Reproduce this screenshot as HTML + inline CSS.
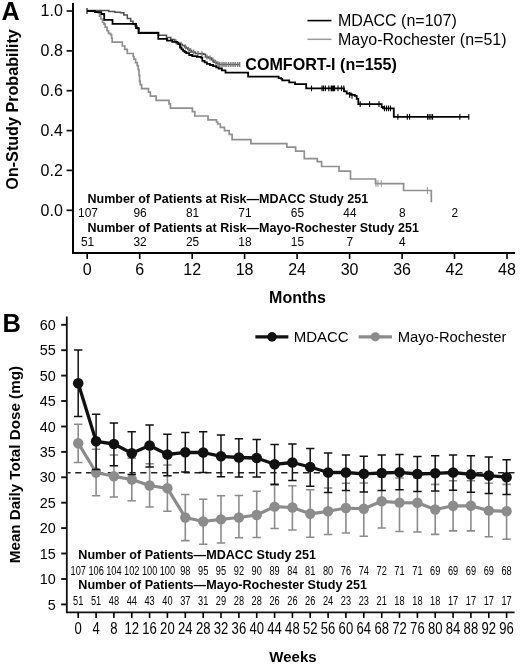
<!DOCTYPE html><html><head><meta charset="utf-8"><style>html,body{margin:0;padding:0;background:#fff;}svg{display:block;will-change:transform;}text{font-family:"Liberation Sans",sans-serif;}</style></head><body>
<svg width="520" height="670" viewBox="0 0 520 670">
<rect width="520" height="670" fill="#fff"/>
<text x="1.6" y="20" font-size="25.2" font-weight="bold" fill="#000">A</text>
<text transform="translate(17.9,109.4) rotate(-90)" text-anchor="middle" font-size="16.15" font-weight="bold" fill="#000">On-Study Probability</text>
<path d="M73 3V253H515" fill="none" stroke="#000" stroke-width="2"/>
<path d="M66.6 210.3H73" stroke="#111" stroke-width="1.7"/>
<text x="62.8" y="215.5" text-anchor="end" font-size="16" fill="#000">0.0</text>
<path d="M66.6 170.4H73" stroke="#111" stroke-width="1.7"/>
<text x="62.8" y="175.6" text-anchor="end" font-size="16" fill="#000">0.2</text>
<path d="M66.6 130.6H73" stroke="#111" stroke-width="1.7"/>
<text x="62.8" y="135.8" text-anchor="end" font-size="16" fill="#000">0.4</text>
<path d="M66.6 90.7H73" stroke="#111" stroke-width="1.7"/>
<text x="62.8" y="95.9" text-anchor="end" font-size="16" fill="#000">0.6</text>
<path d="M66.6 50.9H73" stroke="#111" stroke-width="1.7"/>
<text x="62.8" y="56.1" text-anchor="end" font-size="16" fill="#000">0.8</text>
<path d="M66.6 11.0H73" stroke="#111" stroke-width="1.7"/>
<text x="62.8" y="16.2" text-anchor="end" font-size="16" fill="#000">1.0</text>
<path d="M87.2 253V259" stroke="#000" stroke-width="1.6"/>
<text x="87.2" y="275.1" text-anchor="middle" font-size="16" fill="#000">0</text>
<path d="M139.7 253V259" stroke="#000" stroke-width="1.6"/>
<text x="139.7" y="275.1" text-anchor="middle" font-size="16" fill="#000">6</text>
<path d="M192.2 253V259" stroke="#000" stroke-width="1.6"/>
<text x="192.2" y="275.1" text-anchor="middle" font-size="16" fill="#000">12</text>
<path d="M244.6 253V259" stroke="#000" stroke-width="1.6"/>
<text x="244.6" y="275.1" text-anchor="middle" font-size="16" fill="#000">18</text>
<path d="M297.1 253V259" stroke="#000" stroke-width="1.6"/>
<text x="297.1" y="275.1" text-anchor="middle" font-size="16" fill="#000">24</text>
<path d="M349.6 253V259" stroke="#000" stroke-width="1.6"/>
<text x="349.6" y="275.1" text-anchor="middle" font-size="16" fill="#000">30</text>
<path d="M402.1 253V259" stroke="#000" stroke-width="1.6"/>
<text x="402.1" y="275.1" text-anchor="middle" font-size="16" fill="#000">36</text>
<path d="M454.5 253V259" stroke="#000" stroke-width="1.6"/>
<text x="454.5" y="275.1" text-anchor="middle" font-size="16" fill="#000">42</text>
<path d="M507.0 253V259" stroke="#000" stroke-width="1.6"/>
<text x="507.0" y="275.1" text-anchor="middle" font-size="16" fill="#000">48</text>
<text x="297.5" y="302.6" text-anchor="middle" font-size="16" font-weight="bold" fill="#000">Months</text>
<path d="M307.5 20.6H331.5" stroke="#000" stroke-width="1.6"/>
<path d="M307.5 39.3H331.5" stroke="#9a9a9a" stroke-width="1.5"/>
<text x="338" y="26.3" font-size="16" fill="#000">MDACC (n=107)</text>
<text x="338" y="45.0" font-size="16" fill="#000">Mayo-Rochester (n=51)</text>
<text x="245.3" y="70.4" font-size="16.1" font-weight="bold" fill="#000">COMFORT-I (n=155)</text>
<path d="M87.0 11.0H98.3V12.7H99.5V16.1H100.8V19.0H102.5V22.5H104.0V24.2H105.2V27.1H107.0V30.6H108.5V33.4H110.5V34.6H111.6V38.1H112.2V42.2H122.3V46.0H124.8V49.4H127.3V53.5H133.2V56.5H134.0V59.2H135.6V62.7H137.2V65.6H138.2V69.6H139.0V75.4H139.6V81.1H140.2V84.6H141.6V88.6H148.5V92.1H150.4V96.1H156.1V100.4H169.0V103.8H170.4V108.2H192.4V111.6H194.8V116.0H208.0V119.8H216.5V122.0H217.7V124.0H220.3V127.3H224.5V130.7H229.2V134.3H232.1V139.6H250.9V143.6H286.9V147.1H295.6V151.2H304.3V158.7H317.3V161.6H321.6V166.5H339.0V171.2H350.5V179.0H375.5V183.6H403.6V190.5H431.3V202.3H431.3" fill="none" stroke="#909090" stroke-width="1.7"/>
<path d="M381.3 180.1V187.1M427.4 187.0V194.0M376.0 180.1V187.1M378.0 180.1V187.1" stroke="#999" stroke-width="1"/>
<path d="M87.0 10.6H108.8V11.5H115.0V12.2H120.4V12.7H123.8V15.0H127.3V18.5H130.7V21.3H133.0V24.2H135.2V26.0H137.0V28.5H139.2V32.6H158.5V35.3H166.5V37.6H170.8V39.5H174.8V42.1H177.5V44.2H182.3V45.5H184.6V46.9H186.2V48.0H187.7V49.2H189.6V50.5H191.5V51.9H195.4V53.5H200.0V53.8H203.8V54.2H205.4V56.9H208.5V58.1H211.5V60.0H213.8V62.3H216.9V63.8H219.2V64.6H239.7" fill="none" stroke="#505050" stroke-width="1.5"/>
<path d="M176.0 39.6V44.6M181.0 41.7V46.7M185.5 44.4V49.4M188.5 46.7V51.7M190.5 48.0V53.0M193.5 49.4V54.4M198.0 51.0V56.0M202.0 51.3V56.3M207.0 54.4V59.4M210.0 55.6V60.6M212.7 57.5V62.5M215.5 59.8V64.8M218.0 61.3V66.3M219.8 62.1V67.1M222.0 62.1V67.1M224.0 62.1V67.1M226.0 62.1V67.1M228.5 62.1V67.1M230.8 62.1V67.1M233.1 62.1V67.1M235.3 62.1V67.1M237.7 62.1V67.1M239.7 62.1V67.1" stroke="#7a7a7a" stroke-width="1.4"/>
<path d="M87.0 11.0H95.0V12.1H101.3V14.0H104.2V19.8H112.5V23.8H136.0V28.0H138.5V33.0H158.3V38.8H167.0V40.7H172.3V41.8H177.0V42.6H178.5V44.2H180.0V47.7H181.5V49.3H183.1V50.8H184.6V52.0H186.2V53.1H189.2V55.0H192.3V56.2H196.9V56.9H200.8V57.7H202.3V60.8H204.6V62.3H206.9V63.8H210.0V65.0H213.1V66.2H216.2V67.3H218.5V68.5H221.9V70.4H225.5V72.6H248.1V76.6H278.6V78.1H281.3V78.8H282.3V80.4H289.2V82.3H295.0V84.2H306.2V88.4H344.0V91.3H346.7V93.5H350.8V94.8H354.8V95.8H356.7V98.8H358.3V104.2H381.7V107.0H383.0V108.3H393.8V116.9H469.0" fill="none" stroke="#000" stroke-width="1.8"/>
<path d="M87.0 8.1V13.9M322.0 85.5V91.3M323.5 85.5V91.3M325.4 85.5V91.3M328.8 85.5V91.3M331.2 85.5V91.3M332.3 85.5V91.3M333.5 85.5V91.3M334.6 85.5V91.3M338.0 85.5V91.3M341.5 85.5V91.3M343.8 85.5V91.3M311.5 85.5V91.3M349.6 91.9V97.7M352.0 92.9V98.7M360.2 101.3V107.1M369.6 101.3V107.1M379.0 101.3V107.1M384.5 105.4V111.2M386.5 105.4V111.2M388.5 105.4V111.2M390.5 105.4V111.2M397.9 114.0V119.8M407.3 114.0V119.8M409.6 114.0V119.8M427.6 114.0V119.8M429.2 114.0V119.8M431.0 114.0V119.8M432.6 114.0V119.8M459.9 114.0V119.8M468.8 114.0V119.8" stroke="#000" stroke-width="1.1"/>
<text x="87.5" y="202.7" font-size="12.5" font-weight="bold" fill="#000">Number of Patients at Risk—MDACC Study 251</text>
<text x="88.0" y="216.6" text-anchor="middle" font-size="11.9" fill="#000">107</text>
<text x="140.0" y="216.6" text-anchor="middle" font-size="11.9" fill="#000">96</text>
<text x="192.5" y="216.6" text-anchor="middle" font-size="11.9" fill="#000">81</text>
<text x="244.9" y="216.6" text-anchor="middle" font-size="11.9" fill="#000">71</text>
<text x="297.4" y="216.6" text-anchor="middle" font-size="11.9" fill="#000">65</text>
<text x="349.9" y="216.6" text-anchor="middle" font-size="11.9" fill="#000">44</text>
<text x="402.4" y="216.6" text-anchor="middle" font-size="11.9" fill="#000">8</text>
<text x="454.8" y="216.6" text-anchor="middle" font-size="11.9" fill="#000">2</text>
<text x="87.5" y="231.6" font-size="12.5" font-weight="bold" fill="#000">Number of Patients at Risk—Mayo-Rochester Study 251</text>
<text x="87.5" y="245.8" text-anchor="middle" font-size="11.9" fill="#000">51</text>
<text x="140.0" y="245.8" text-anchor="middle" font-size="11.9" fill="#000">32</text>
<text x="192.5" y="245.8" text-anchor="middle" font-size="11.9" fill="#000">25</text>
<text x="244.9" y="245.8" text-anchor="middle" font-size="11.9" fill="#000">18</text>
<text x="297.4" y="245.8" text-anchor="middle" font-size="11.9" fill="#000">15</text>
<text x="349.9" y="245.8" text-anchor="middle" font-size="11.9" fill="#000">7</text>
<text x="402.4" y="245.8" text-anchor="middle" font-size="11.9" fill="#000">4</text>
<text x="2.5" y="332.2" font-size="25.5" font-weight="bold" fill="#000">B</text>
<text transform="translate(19.8,464.6) rotate(-90)" text-anchor="middle" font-size="15.2" font-weight="bold" fill="#000">Mean Daily Total Dose (mg)</text>
<path d="M66.8 316.5V612.4H514.6" fill="none" stroke="#111" stroke-width="1.8"/>
<path d="M61.2 604.4H67" stroke="#111" stroke-width="1.9"/>
<text x="55.9" y="609.6" text-anchor="end" font-size="15.5" fill="#000" transform="translate(55.9 0) scale(0.93 1) translate(-55.9 0)">5</text>
<path d="M61.2 579.0H67" stroke="#111" stroke-width="1.9"/>
<text x="55.9" y="584.2" text-anchor="end" font-size="15.5" fill="#000" transform="translate(55.9 0) scale(0.93 1) translate(-55.9 0)">10</text>
<path d="M61.2 553.5H67" stroke="#111" stroke-width="1.9"/>
<text x="55.9" y="558.7" text-anchor="end" font-size="15.5" fill="#000" transform="translate(55.9 0) scale(0.93 1) translate(-55.9 0)">15</text>
<path d="M61.2 528.1H67" stroke="#111" stroke-width="1.9"/>
<text x="55.9" y="533.3" text-anchor="end" font-size="15.5" fill="#000" transform="translate(55.9 0) scale(0.93 1) translate(-55.9 0)">20</text>
<path d="M61.2 502.7H67" stroke="#111" stroke-width="1.9"/>
<text x="55.9" y="507.9" text-anchor="end" font-size="15.5" fill="#000" transform="translate(55.9 0) scale(0.93 1) translate(-55.9 0)">25</text>
<path d="M61.2 477.3H67" stroke="#111" stroke-width="1.9"/>
<text x="55.9" y="482.5" text-anchor="end" font-size="15.5" fill="#000" transform="translate(55.9 0) scale(0.93 1) translate(-55.9 0)">30</text>
<path d="M61.2 451.9H67" stroke="#111" stroke-width="1.9"/>
<text x="55.9" y="457.1" text-anchor="end" font-size="15.5" fill="#000" transform="translate(55.9 0) scale(0.93 1) translate(-55.9 0)">35</text>
<path d="M61.2 426.5H67" stroke="#111" stroke-width="1.9"/>
<text x="55.9" y="431.7" text-anchor="end" font-size="15.5" fill="#000" transform="translate(55.9 0) scale(0.93 1) translate(-55.9 0)">40</text>
<path d="M61.2 401.0H67" stroke="#111" stroke-width="1.9"/>
<text x="55.9" y="406.2" text-anchor="end" font-size="15.5" fill="#000" transform="translate(55.9 0) scale(0.93 1) translate(-55.9 0)">45</text>
<path d="M61.2 375.6H67" stroke="#111" stroke-width="1.9"/>
<text x="55.9" y="380.8" text-anchor="end" font-size="15.5" fill="#000" transform="translate(55.9 0) scale(0.93 1) translate(-55.9 0)">50</text>
<path d="M61.2 350.2H67" stroke="#111" stroke-width="1.9"/>
<text x="55.9" y="355.4" text-anchor="end" font-size="15.5" fill="#000" transform="translate(55.9 0) scale(0.93 1) translate(-55.9 0)">55</text>
<path d="M61.2 324.8H67" stroke="#111" stroke-width="1.9"/>
<text x="55.9" y="330.0" text-anchor="end" font-size="15.5" fill="#000" transform="translate(55.9 0) scale(0.93 1) translate(-55.9 0)">60</text>
<path d="M78.2 612.5V618" stroke="#000" stroke-width="1.6"/>
<text x="78.2" y="633.8" text-anchor="middle" font-size="15.6" fill="#000" transform="translate(78.2 0) scale(0.84 1) translate(-78.2 0)">0</text>
<path d="M96.1 612.5V618" stroke="#000" stroke-width="1.6"/>
<text x="96.1" y="633.8" text-anchor="middle" font-size="15.6" fill="#000" transform="translate(96.1 0) scale(0.84 1) translate(-96.1 0)">4</text>
<path d="M113.9 612.5V618" stroke="#000" stroke-width="1.6"/>
<text x="113.9" y="633.8" text-anchor="middle" font-size="15.6" fill="#000" transform="translate(113.9 0) scale(0.84 1) translate(-113.9 0)">8</text>
<path d="M131.8 612.5V618" stroke="#000" stroke-width="1.6"/>
<text x="131.8" y="633.8" text-anchor="middle" font-size="15.6" fill="#000" transform="translate(131.8 0) scale(0.84 1) translate(-131.8 0)">12</text>
<path d="M149.6 612.5V618" stroke="#000" stroke-width="1.6"/>
<text x="149.6" y="633.8" text-anchor="middle" font-size="15.6" fill="#000" transform="translate(149.6 0) scale(0.84 1) translate(-149.6 0)">16</text>
<path d="M167.4 612.5V618" stroke="#000" stroke-width="1.6"/>
<text x="167.4" y="633.8" text-anchor="middle" font-size="15.6" fill="#000" transform="translate(167.4 0) scale(0.84 1) translate(-167.4 0)">20</text>
<path d="M185.3 612.5V618" stroke="#000" stroke-width="1.6"/>
<text x="185.3" y="633.8" text-anchor="middle" font-size="15.6" fill="#000" transform="translate(185.3 0) scale(0.84 1) translate(-185.3 0)">24</text>
<path d="M203.2 612.5V618" stroke="#000" stroke-width="1.6"/>
<text x="203.2" y="633.8" text-anchor="middle" font-size="15.6" fill="#000" transform="translate(203.2 0) scale(0.84 1) translate(-203.2 0)">28</text>
<path d="M221.0 612.5V618" stroke="#000" stroke-width="1.6"/>
<text x="221.0" y="633.8" text-anchor="middle" font-size="15.6" fill="#000" transform="translate(221.0 0) scale(0.84 1) translate(-221.0 0)">32</text>
<path d="M238.9 612.5V618" stroke="#000" stroke-width="1.6"/>
<text x="238.9" y="633.8" text-anchor="middle" font-size="15.6" fill="#000" transform="translate(238.9 0) scale(0.84 1) translate(-238.9 0)">36</text>
<path d="M256.7 612.5V618" stroke="#000" stroke-width="1.6"/>
<text x="256.7" y="633.8" text-anchor="middle" font-size="15.6" fill="#000" transform="translate(256.7 0) scale(0.84 1) translate(-256.7 0)">40</text>
<path d="M274.6 612.5V618" stroke="#000" stroke-width="1.6"/>
<text x="274.6" y="633.8" text-anchor="middle" font-size="15.6" fill="#000" transform="translate(274.6 0) scale(0.84 1) translate(-274.6 0)">44</text>
<path d="M292.4 612.5V618" stroke="#000" stroke-width="1.6"/>
<text x="292.4" y="633.8" text-anchor="middle" font-size="15.6" fill="#000" transform="translate(292.4 0) scale(0.84 1) translate(-292.4 0)">48</text>
<path d="M310.2 612.5V618" stroke="#000" stroke-width="1.6"/>
<text x="310.2" y="633.8" text-anchor="middle" font-size="15.6" fill="#000" transform="translate(310.2 0) scale(0.84 1) translate(-310.2 0)">52</text>
<path d="M328.1 612.5V618" stroke="#000" stroke-width="1.6"/>
<text x="328.1" y="633.8" text-anchor="middle" font-size="15.6" fill="#000" transform="translate(328.1 0) scale(0.84 1) translate(-328.1 0)">56</text>
<path d="M345.9 612.5V618" stroke="#000" stroke-width="1.6"/>
<text x="345.9" y="633.8" text-anchor="middle" font-size="15.6" fill="#000" transform="translate(345.9 0) scale(0.84 1) translate(-345.9 0)">60</text>
<path d="M363.8 612.5V618" stroke="#000" stroke-width="1.6"/>
<text x="363.8" y="633.8" text-anchor="middle" font-size="15.6" fill="#000" transform="translate(363.8 0) scale(0.84 1) translate(-363.8 0)">64</text>
<path d="M381.7 612.5V618" stroke="#000" stroke-width="1.6"/>
<text x="381.7" y="633.8" text-anchor="middle" font-size="15.6" fill="#000" transform="translate(381.7 0) scale(0.84 1) translate(-381.7 0)">68</text>
<path d="M399.5 612.5V618" stroke="#000" stroke-width="1.6"/>
<text x="399.5" y="633.8" text-anchor="middle" font-size="15.6" fill="#000" transform="translate(399.5 0) scale(0.84 1) translate(-399.5 0)">72</text>
<path d="M417.4 612.5V618" stroke="#000" stroke-width="1.6"/>
<text x="417.4" y="633.8" text-anchor="middle" font-size="15.6" fill="#000" transform="translate(417.4 0) scale(0.84 1) translate(-417.4 0)">76</text>
<path d="M435.2 612.5V618" stroke="#000" stroke-width="1.6"/>
<text x="435.2" y="633.8" text-anchor="middle" font-size="15.6" fill="#000" transform="translate(435.2 0) scale(0.84 1) translate(-435.2 0)">80</text>
<path d="M453.1 612.5V618" stroke="#000" stroke-width="1.6"/>
<text x="453.1" y="633.8" text-anchor="middle" font-size="15.6" fill="#000" transform="translate(453.1 0) scale(0.84 1) translate(-453.1 0)">84</text>
<path d="M470.9 612.5V618" stroke="#000" stroke-width="1.6"/>
<text x="470.9" y="633.8" text-anchor="middle" font-size="15.6" fill="#000" transform="translate(470.9 0) scale(0.84 1) translate(-470.9 0)">88</text>
<path d="M488.8 612.5V618" stroke="#000" stroke-width="1.6"/>
<text x="488.8" y="633.8" text-anchor="middle" font-size="15.6" fill="#000" transform="translate(488.8 0) scale(0.84 1) translate(-488.8 0)">92</text>
<path d="M506.6 612.5V618" stroke="#000" stroke-width="1.6"/>
<text x="506.6" y="633.8" text-anchor="middle" font-size="15.6" fill="#000" transform="translate(506.6 0) scale(0.84 1) translate(-506.6 0)">96</text>
<text x="293" y="661.9" text-anchor="middle" font-size="15" font-weight="bold" fill="#000">Weeks</text>
<path d="M67.6 472.8H514.5" stroke="#222" stroke-width="1.4" stroke-dasharray="6.2 4.64" stroke-dashoffset="3.2"/>
<path d="M78.2 424.3V462.5M74.0 424.3H82.4M74.0 462.5H82.4M96.1 449.3V495.8M91.9 449.3H100.3M91.9 495.8H100.3M113.9 455.0V497.0M109.7 455.0H118.1M109.7 497.0H118.1M131.8 458.3V500.8M127.5 458.3H135.9M127.5 500.8H135.9M149.6 463.8V507.0M145.4 463.8H153.8M145.4 507.0H153.8M167.4 465.0V511.3M163.2 465.0H171.6M163.2 511.3H171.6M185.3 494.5V540.6M181.1 494.5H189.5M181.1 540.6H189.5M203.2 499.3V544.3M199.0 499.3H207.4M199.0 544.3H207.4M221.0 495.8V543.0M216.8 495.8H225.2M216.8 543.0H225.2M238.9 495.5V537.8M234.7 495.5H243.1M234.7 537.8H243.1M256.7 491.3V537.5M252.5 491.3H260.9M252.5 537.5H260.9M274.6 485.3V528.5M270.4 485.3H278.8M270.4 528.5H278.8M292.4 485.8V530.0M288.2 485.8H296.6M288.2 530.0H296.6M310.2 489.8V537.2M306.1 489.8H314.4M306.1 537.2H314.4M328.1 488.0V534.5M323.9 488.0H332.3M323.9 534.5H332.3M345.9 483.3V533.0M341.8 483.3H350.1M341.8 533.0H350.1M363.8 483.0V536.3M359.6 483.0H368.0M359.6 536.3H368.0M381.7 477.0V528.0M377.5 477.0H385.9M377.5 528.0H385.9M399.5 478.0V531.5M395.3 478.0H403.7M395.3 531.5H403.7M417.4 478.0V532.0M413.2 478.0H421.6M413.2 532.0H421.6M435.2 484.4V534.4M431.0 484.4H439.4M431.0 534.4H439.4M453.1 480.8V530.9M448.9 480.8H457.2M448.9 530.9H457.2M470.9 480.8V530.9M466.7 480.8H475.1M466.7 530.9H475.1M488.8 483.2V536.8M484.6 483.2H492.9M484.6 536.8H492.9M506.6 484.4V539.3M502.4 484.4H510.8M502.4 539.3H510.8" fill="none" stroke="#8c8c8c" stroke-width="1.6"/>
<polyline points="78.2,443.2 96.1,472.5 113.9,476.3 131.8,479.5 149.6,485.5 167.4,488.3 185.3,517.5 203.2,521.5 221.0,519.4 238.9,517.5 256.7,515.0 274.6,506.6 292.4,507.5 310.2,513.8 328.1,511.3 345.9,508.0 363.8,508.8 381.7,501.3 399.5,502.6 417.4,502.8 435.2,509.5 453.1,505.8 470.9,505.8 488.8,510.6 506.6,511.3" fill="none" stroke="#8c8c8c" stroke-width="3.2" stroke-linejoin="round"/>
<circle cx="78.2" cy="443.2" r="5.2" fill="#8c8c8c"/>
<circle cx="96.1" cy="472.5" r="5.2" fill="#8c8c8c"/>
<circle cx="113.9" cy="476.3" r="5.2" fill="#8c8c8c"/>
<circle cx="131.8" cy="479.5" r="5.2" fill="#8c8c8c"/>
<circle cx="149.6" cy="485.5" r="5.2" fill="#8c8c8c"/>
<circle cx="167.4" cy="488.3" r="5.2" fill="#8c8c8c"/>
<circle cx="185.3" cy="517.5" r="5.2" fill="#8c8c8c"/>
<circle cx="203.2" cy="521.5" r="5.2" fill="#8c8c8c"/>
<circle cx="221.0" cy="519.4" r="5.2" fill="#8c8c8c"/>
<circle cx="238.9" cy="517.5" r="5.2" fill="#8c8c8c"/>
<circle cx="256.7" cy="515.0" r="5.2" fill="#8c8c8c"/>
<circle cx="274.6" cy="506.6" r="5.2" fill="#8c8c8c"/>
<circle cx="292.4" cy="507.5" r="5.2" fill="#8c8c8c"/>
<circle cx="310.2" cy="513.8" r="5.2" fill="#8c8c8c"/>
<circle cx="328.1" cy="511.3" r="5.2" fill="#8c8c8c"/>
<circle cx="345.9" cy="508.0" r="5.2" fill="#8c8c8c"/>
<circle cx="363.8" cy="508.8" r="5.2" fill="#8c8c8c"/>
<circle cx="381.7" cy="501.3" r="5.2" fill="#8c8c8c"/>
<circle cx="399.5" cy="502.6" r="5.2" fill="#8c8c8c"/>
<circle cx="417.4" cy="502.8" r="5.2" fill="#8c8c8c"/>
<circle cx="435.2" cy="509.5" r="5.2" fill="#8c8c8c"/>
<circle cx="453.1" cy="505.8" r="5.2" fill="#8c8c8c"/>
<circle cx="470.9" cy="505.8" r="5.2" fill="#8c8c8c"/>
<circle cx="488.8" cy="510.6" r="5.2" fill="#8c8c8c"/>
<circle cx="506.6" cy="511.3" r="5.2" fill="#8c8c8c"/>
<path d="M78.2 350.0V416.5M74.0 350.0H82.4M74.0 416.5H82.4M96.1 414.3V469.5M91.9 414.3H100.3M91.9 469.5H100.3M113.9 423.0V465.8M109.7 423.0H118.1M109.7 465.8H118.1M131.8 431.8V474.5M127.5 431.8H135.9M127.5 474.5H135.9M149.6 425.0V467.0M145.4 425.0H153.8M145.4 467.0H153.8M167.4 434.3V475.8M163.2 434.3H171.6M163.2 475.8H171.6M185.3 432.5V472.0M181.1 432.5H189.5M181.1 472.0H189.5M203.2 431.8V472.5M199.0 431.8H207.4M199.0 472.5H207.4M221.0 435.0V476.8M216.8 435.0H225.2M216.8 476.8H225.2M238.9 438.8V477.0M234.7 438.8H243.1M234.7 477.0H243.1M256.7 439.5V477.0M252.5 439.5H260.9M252.5 477.0H260.9M274.6 444.5V484.3M270.4 444.5H278.8M270.4 484.3H278.8M292.4 444.0V480.5M288.2 444.0H296.6M288.2 480.5H296.6M310.2 448.5V486.3M306.1 448.5H314.4M306.1 486.3H314.4M328.1 453.0V492.5M323.9 453.0H332.3M323.9 492.5H332.3M345.9 455.0V490.5M341.8 455.0H350.1M341.8 490.5H350.1M363.8 456.3V492.0M359.6 456.3H368.0M359.6 492.0H368.0M381.7 455.0V490.5M377.5 455.0H385.9M377.5 490.5H385.9M399.5 454.5V489.8M395.3 454.5H403.7M395.3 489.8H403.7M417.4 456.6V491.6M413.2 456.6H421.6M413.2 491.6H421.6M435.2 455.8V491.0M431.0 455.8H439.4M431.0 491.0H439.4M453.1 455.0V490.3M448.9 455.0H457.2M448.9 490.3H457.2M470.9 455.8V492.2M466.7 455.8H475.1M466.7 492.2H475.1M488.8 457.0V493.4M484.6 457.0H492.9M484.6 493.4H492.9M506.6 459.8V494.6M502.4 459.8H510.8M502.4 494.6H510.8" fill="none" stroke="#111" stroke-width="1.5"/>
<polyline points="78.2,383.3 96.1,441.3 113.9,444.0 131.8,453.3 149.6,445.5 167.4,454.5 185.3,452.3 203.2,452.5 221.0,456.3 238.9,457.5 256.7,458.0 274.6,464.3 292.4,462.5 310.2,467.0 328.1,472.5 345.9,472.5 363.8,473.8 381.7,473.0 399.5,472.3 417.4,474.0 435.2,473.3 453.1,472.5 470.9,474.4 488.8,475.6 506.6,477.2" fill="none" stroke="#111" stroke-width="3.3" stroke-linejoin="round"/>
<circle cx="78.2" cy="383.3" r="5.3" fill="#111"/>
<circle cx="96.1" cy="441.3" r="5.3" fill="#111"/>
<circle cx="113.9" cy="444.0" r="5.3" fill="#111"/>
<circle cx="131.8" cy="453.3" r="5.3" fill="#111"/>
<circle cx="149.6" cy="445.5" r="5.3" fill="#111"/>
<circle cx="167.4" cy="454.5" r="5.3" fill="#111"/>
<circle cx="185.3" cy="452.3" r="5.3" fill="#111"/>
<circle cx="203.2" cy="452.5" r="5.3" fill="#111"/>
<circle cx="221.0" cy="456.3" r="5.3" fill="#111"/>
<circle cx="238.9" cy="457.5" r="5.3" fill="#111"/>
<circle cx="256.7" cy="458.0" r="5.3" fill="#111"/>
<circle cx="274.6" cy="464.3" r="5.3" fill="#111"/>
<circle cx="292.4" cy="462.5" r="5.3" fill="#111"/>
<circle cx="310.2" cy="467.0" r="5.3" fill="#111"/>
<circle cx="328.1" cy="472.5" r="5.3" fill="#111"/>
<circle cx="345.9" cy="472.5" r="5.3" fill="#111"/>
<circle cx="363.8" cy="473.8" r="5.3" fill="#111"/>
<circle cx="381.7" cy="473.0" r="5.3" fill="#111"/>
<circle cx="399.5" cy="472.3" r="5.3" fill="#111"/>
<circle cx="417.4" cy="474.0" r="5.3" fill="#111"/>
<circle cx="435.2" cy="473.3" r="5.3" fill="#111"/>
<circle cx="453.1" cy="472.5" r="5.3" fill="#111"/>
<circle cx="470.9" cy="474.4" r="5.3" fill="#111"/>
<circle cx="488.8" cy="475.6" r="5.3" fill="#111"/>
<circle cx="506.6" cy="477.2" r="5.3" fill="#111"/>
<path d="M255.4 336.8H288.4" stroke="#111" stroke-width="3.2"/><circle cx="272" cy="336.9" r="4.8" fill="#111"/>
<text x="293.7" y="342.4" font-size="15" fill="#000">MDACC</text>
<path d="M358.7 336.8H392" stroke="#8c8c8c" stroke-width="3.2"/><circle cx="375.3" cy="336.8" r="4.6" fill="#8c8c8c"/>
<text x="397.8" y="342.4" font-size="14.8" fill="#000">Mayo-Rochester</text>
<text x="78.3" y="558.9" font-size="12.58" font-weight="bold" fill="#000">Number of Patients—MDACC Study 251</text>
<text x="78.2" y="575.0" text-anchor="middle" font-size="12.3" fill="#000" transform="translate(78.2 0) scale(0.75 1) translate(-78.2 0)">107</text>
<text x="96.1" y="575.0" text-anchor="middle" font-size="12.3" fill="#000" transform="translate(96.1 0) scale(0.75 1) translate(-96.1 0)">106</text>
<text x="113.9" y="575.0" text-anchor="middle" font-size="12.3" fill="#000" transform="translate(113.9 0) scale(0.75 1) translate(-113.9 0)">104</text>
<text x="131.8" y="575.0" text-anchor="middle" font-size="12.3" fill="#000" transform="translate(131.8 0) scale(0.75 1) translate(-131.8 0)">102</text>
<text x="149.6" y="575.0" text-anchor="middle" font-size="12.3" fill="#000" transform="translate(149.6 0) scale(0.75 1) translate(-149.6 0)">100</text>
<text x="167.4" y="575.0" text-anchor="middle" font-size="12.3" fill="#000" transform="translate(167.4 0) scale(0.75 1) translate(-167.4 0)">100</text>
<text x="185.3" y="575.0" text-anchor="middle" font-size="12.3" fill="#000" transform="translate(185.3 0) scale(0.75 1) translate(-185.3 0)">98</text>
<text x="203.2" y="575.0" text-anchor="middle" font-size="12.3" fill="#000" transform="translate(203.2 0) scale(0.75 1) translate(-203.2 0)">95</text>
<text x="221.0" y="575.0" text-anchor="middle" font-size="12.3" fill="#000" transform="translate(221.0 0) scale(0.75 1) translate(-221.0 0)">95</text>
<text x="238.9" y="575.0" text-anchor="middle" font-size="12.3" fill="#000" transform="translate(238.9 0) scale(0.75 1) translate(-238.9 0)">92</text>
<text x="256.7" y="575.0" text-anchor="middle" font-size="12.3" fill="#000" transform="translate(256.7 0) scale(0.75 1) translate(-256.7 0)">90</text>
<text x="274.6" y="575.0" text-anchor="middle" font-size="12.3" fill="#000" transform="translate(274.6 0) scale(0.75 1) translate(-274.6 0)">89</text>
<text x="292.4" y="575.0" text-anchor="middle" font-size="12.3" fill="#000" transform="translate(292.4 0) scale(0.75 1) translate(-292.4 0)">84</text>
<text x="310.2" y="575.0" text-anchor="middle" font-size="12.3" fill="#000" transform="translate(310.2 0) scale(0.75 1) translate(-310.2 0)">81</text>
<text x="328.1" y="575.0" text-anchor="middle" font-size="12.3" fill="#000" transform="translate(328.1 0) scale(0.75 1) translate(-328.1 0)">80</text>
<text x="345.9" y="575.0" text-anchor="middle" font-size="12.3" fill="#000" transform="translate(345.9 0) scale(0.75 1) translate(-345.9 0)">76</text>
<text x="363.8" y="575.0" text-anchor="middle" font-size="12.3" fill="#000" transform="translate(363.8 0) scale(0.75 1) translate(-363.8 0)">74</text>
<text x="381.7" y="575.0" text-anchor="middle" font-size="12.3" fill="#000" transform="translate(381.7 0) scale(0.75 1) translate(-381.7 0)">72</text>
<text x="399.5" y="575.0" text-anchor="middle" font-size="12.3" fill="#000" transform="translate(399.5 0) scale(0.75 1) translate(-399.5 0)">71</text>
<text x="417.4" y="575.0" text-anchor="middle" font-size="12.3" fill="#000" transform="translate(417.4 0) scale(0.75 1) translate(-417.4 0)">71</text>
<text x="435.2" y="575.0" text-anchor="middle" font-size="12.3" fill="#000" transform="translate(435.2 0) scale(0.75 1) translate(-435.2 0)">69</text>
<text x="453.1" y="575.0" text-anchor="middle" font-size="12.3" fill="#000" transform="translate(453.1 0) scale(0.75 1) translate(-453.1 0)">69</text>
<text x="470.9" y="575.0" text-anchor="middle" font-size="12.3" fill="#000" transform="translate(470.9 0) scale(0.75 1) translate(-470.9 0)">69</text>
<text x="488.8" y="575.0" text-anchor="middle" font-size="12.3" fill="#000" transform="translate(488.8 0) scale(0.75 1) translate(-488.8 0)">69</text>
<text x="506.6" y="575.0" text-anchor="middle" font-size="12.3" fill="#000" transform="translate(506.6 0) scale(0.75 1) translate(-506.6 0)">68</text>
<text x="78.3" y="589.3" font-size="12.58" font-weight="bold" fill="#000">Number of Patients—Mayo-Rochester Study 251</text>
<text x="78.2" y="605.2" text-anchor="middle" font-size="12.3" fill="#000" transform="translate(78.2 0) scale(0.75 1) translate(-78.2 0)">51</text>
<text x="96.1" y="605.2" text-anchor="middle" font-size="12.3" fill="#000" transform="translate(96.1 0) scale(0.75 1) translate(-96.1 0)">51</text>
<text x="113.9" y="605.2" text-anchor="middle" font-size="12.3" fill="#000" transform="translate(113.9 0) scale(0.75 1) translate(-113.9 0)">48</text>
<text x="131.8" y="605.2" text-anchor="middle" font-size="12.3" fill="#000" transform="translate(131.8 0) scale(0.75 1) translate(-131.8 0)">44</text>
<text x="149.6" y="605.2" text-anchor="middle" font-size="12.3" fill="#000" transform="translate(149.6 0) scale(0.75 1) translate(-149.6 0)">43</text>
<text x="167.4" y="605.2" text-anchor="middle" font-size="12.3" fill="#000" transform="translate(167.4 0) scale(0.75 1) translate(-167.4 0)">40</text>
<text x="185.3" y="605.2" text-anchor="middle" font-size="12.3" fill="#000" transform="translate(185.3 0) scale(0.75 1) translate(-185.3 0)">37</text>
<text x="203.2" y="605.2" text-anchor="middle" font-size="12.3" fill="#000" transform="translate(203.2 0) scale(0.75 1) translate(-203.2 0)">31</text>
<text x="221.0" y="605.2" text-anchor="middle" font-size="12.3" fill="#000" transform="translate(221.0 0) scale(0.75 1) translate(-221.0 0)">29</text>
<text x="238.9" y="605.2" text-anchor="middle" font-size="12.3" fill="#000" transform="translate(238.9 0) scale(0.75 1) translate(-238.9 0)">28</text>
<text x="256.7" y="605.2" text-anchor="middle" font-size="12.3" fill="#000" transform="translate(256.7 0) scale(0.75 1) translate(-256.7 0)">28</text>
<text x="274.6" y="605.2" text-anchor="middle" font-size="12.3" fill="#000" transform="translate(274.6 0) scale(0.75 1) translate(-274.6 0)">26</text>
<text x="292.4" y="605.2" text-anchor="middle" font-size="12.3" fill="#000" transform="translate(292.4 0) scale(0.75 1) translate(-292.4 0)">26</text>
<text x="310.2" y="605.2" text-anchor="middle" font-size="12.3" fill="#000" transform="translate(310.2 0) scale(0.75 1) translate(-310.2 0)">26</text>
<text x="328.1" y="605.2" text-anchor="middle" font-size="12.3" fill="#000" transform="translate(328.1 0) scale(0.75 1) translate(-328.1 0)">24</text>
<text x="345.9" y="605.2" text-anchor="middle" font-size="12.3" fill="#000" transform="translate(345.9 0) scale(0.75 1) translate(-345.9 0)">23</text>
<text x="363.8" y="605.2" text-anchor="middle" font-size="12.3" fill="#000" transform="translate(363.8 0) scale(0.75 1) translate(-363.8 0)">23</text>
<text x="381.7" y="605.2" text-anchor="middle" font-size="12.3" fill="#000" transform="translate(381.7 0) scale(0.75 1) translate(-381.7 0)">21</text>
<text x="399.5" y="605.2" text-anchor="middle" font-size="12.3" fill="#000" transform="translate(399.5 0) scale(0.75 1) translate(-399.5 0)">18</text>
<text x="417.4" y="605.2" text-anchor="middle" font-size="12.3" fill="#000" transform="translate(417.4 0) scale(0.75 1) translate(-417.4 0)">18</text>
<text x="435.2" y="605.2" text-anchor="middle" font-size="12.3" fill="#000" transform="translate(435.2 0) scale(0.75 1) translate(-435.2 0)">18</text>
<text x="453.1" y="605.2" text-anchor="middle" font-size="12.3" fill="#000" transform="translate(453.1 0) scale(0.75 1) translate(-453.1 0)">17</text>
<text x="470.9" y="605.2" text-anchor="middle" font-size="12.3" fill="#000" transform="translate(470.9 0) scale(0.75 1) translate(-470.9 0)">17</text>
<text x="488.8" y="605.2" text-anchor="middle" font-size="12.3" fill="#000" transform="translate(488.8 0) scale(0.75 1) translate(-488.8 0)">17</text>
<text x="506.6" y="605.2" text-anchor="middle" font-size="12.3" fill="#000" transform="translate(506.6 0) scale(0.75 1) translate(-506.6 0)">17</text>
</svg></body></html>
